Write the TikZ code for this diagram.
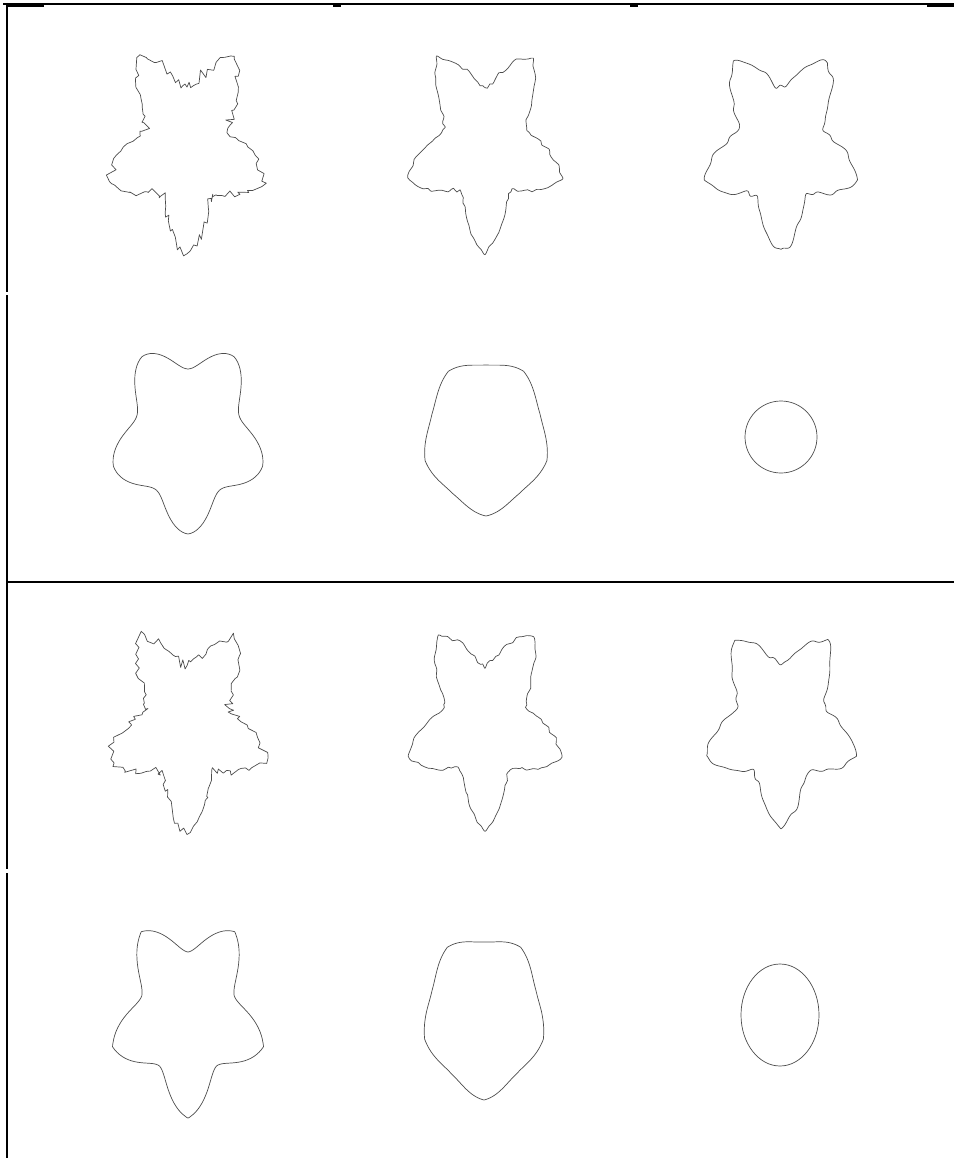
\documentclass[tikz,border=0pt]{standalone}
\usepackage{tikz}
\tikzset{
  frameline/.style = {line width=2pt, black},
  frametick/.style = {line width=3.6pt, black},
  outline/.style   = {line width=0.7pt, black!70, line join=round},
  declare function = {
    fold(\q)        = min(mod(\q+270,72),72-mod(\q+270,72));
    starp(\q,\a,\b) = \a*\b*sin(36)/(\a*sin(fold(\q))+\b*sin(36-fold(\q)));
    shp(\q,\a,\b,\w) = \w*starp(\q,\a,\b)+(1-\w)*((\a+\b)/2+(\a-\b)/2*cos(5*(\q-90)));
    wob(\q)         = 1.6*sin(23*\q)+1.2*sin(31*\q+40)+0.9*sin(17*\q+100);
    lowstretch(\q,\k) = 1+(\k-1)*(sin(\q)>0);
  }
}

\begin{document}
\begin{tikzpicture}[x=1pt,y=-1pt]
  \useasboundingbox (0,0) rectangle (954,1158);
  \pgfmathsetseed{4242}
  % --- frame
  \draw[frameline] (3,4) -- (954,4);
  \draw[frametick] (6,5) -- (44,5);
  \draw[frametick] (333,5) -- (341,5);
  \draw[frametick] (630,5) -- (638,5);
  \draw[frametick] (927,5) -- (954,5);
  \draw[frameline] (7,3) -- (7,292);
  \draw[frameline] (7,295) -- (7,869);
  \draw[frameline] (7,873) -- (7,1158);
  \draw[frameline] (7,582) -- (954,582);
  % --- first run: rough star, then smoothing
  \begin{scope}[shift={(187,147)}]
    \draw[outline] plot[domain=0:357.5, samples=144]
      ({0.75*(shp(\x,110,58,0.4)+6*rand)*cos(\x)}, {(shp(\x,110,58,0.4)+6*rand)*sin(\x)}) -- cycle;
  \end{scope}
  \begin{scope}[shift={(485,145)}]
    \draw[outline] plot[smooth cycle, domain=0:357, samples=120]
      ({0.75*(shp(\x,108,57,0.4)+2.6*rand)*cos(\x)}, {(shp(\x,108,57,0.4)+2.6*rand)*sin(\x)});
  \end{scope}
  \begin{scope}[shift={(781,147)}]
    \draw[outline] plot[smooth cycle, domain=0:359, samples=360]
      ({0.76*(shp(\x,105,59,0.3)+wob(\x))*cos(\x)}, {(shp(\x,105,59,0.3)+wob(\x))*sin(\x)});
  \end{scope}
  \begin{scope}[shift={(188,436)}]
    \draw[outline] plot[smooth cycle, domain=0:358, samples=180]
      ({0.8*shp(\x,98,67,0.1)*cos(\x)}, {shp(\x,98,67,0.1)*sin(\x)});
  \end{scope}
  \begin{scope}[shift={(486,436)}]
    \draw[outline] plot[smooth cycle, domain=0:358, samples=180]
      ({0.8*shp(\x,80,71,0.3)*cos(\x)}, {shp(\x,80,71,0.3)*sin(\x)});
  \end{scope}
  \draw[outline] (781,437) circle[radius=36];
  % --- second run: same start, other smoothing
  \begin{scope}[shift={(187,725)}]
    \draw[outline] plot[domain=0:357.5, samples=144]
      ({0.75*(shp(\x,110,58,0.4)+6*rand)*cos(\x)}, {(shp(\x,110,58,0.4)+6*rand)*sin(\x)}) -- cycle;
  \end{scope}
  \begin{scope}[shift={(485,723)}]
    \draw[outline] plot[smooth cycle, domain=0:357, samples=120]
      ({0.75*(shp(\x,108,57,0.4)+2.6*rand)*cos(\x)}, {(shp(\x,108,57,0.4)+2.6*rand)*sin(\x)});
  \end{scope}
  \begin{scope}[shift={(781,724)}]
    \draw[outline] plot[smooth cycle, domain=0:359, samples=360]
      ({0.76*(shp(\x,104,60,0.4)+0.8*wob(\x+7))*cos(\x)}, {(shp(\x,104,60,0.4)+0.8*wob(\x+7))*sin(\x)});
  \end{scope}
  \begin{scope}[shift={(188,1015)}]
    \draw[outline] plot[smooth cycle, domain=0:358, samples=180]
      ({0.77*shp(\x,103,63,0.3)*cos(\x)}, {shp(\x,103,63,0.3)*sin(\x)});
  \end{scope}
  \begin{scope}[shift={(484,1012)}]
    \draw[outline] plot[smooth cycle, domain=0:358, samples=180]
      ({0.78*shp(\x,80,70,0.3)*cos(\x)}, {lowstretch(\x,1.1)*shp(\x,80,70,0.3)*sin(\x)});
  \end{scope}
  \draw[outline] (780,1015) ellipse[x radius=39, y radius=51];
\end{tikzpicture}
\end{document}
